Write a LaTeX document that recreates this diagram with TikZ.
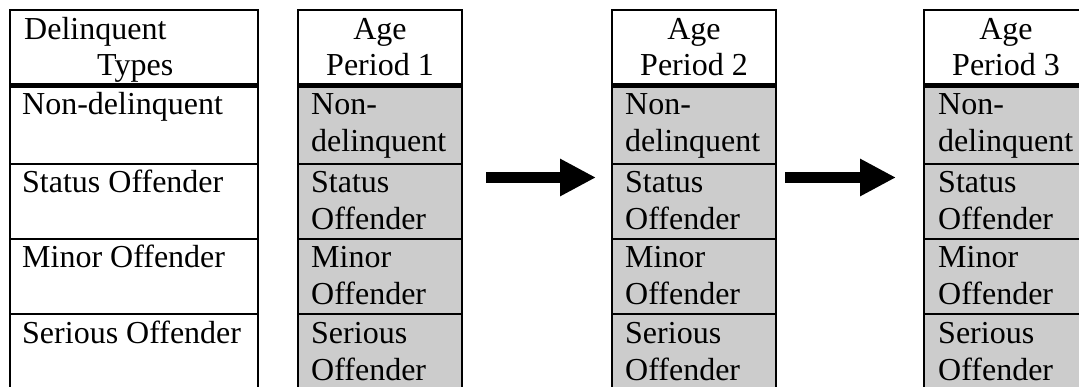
\documentclass[tikz,border=0pt]{standalone}
\usepackage{fontspec}
\setmainfont{Liberation Serif}
\usetikzlibrary{arrows.meta}
\definecolor{cellgray}{RGB}{204,204,204}
\begin{document}
\begin{tikzpicture}[x=1pt,y=-1pt,
  txt/.style={inner sep=0pt, anchor=base west, font=\fontsize{32}{37}\selectfont},
  hdr/.style={inner sep=0pt, anchor=base, font=\fontsize{32}{37}\selectfont},
  border/.style={draw=black, line width=2pt},
  thick rule/.style={draw=black, line width=5pt},
  bigarrow/.style={line width=11pt, -{Triangle[length=36pt,width=35pt]}}]
\useasboundingbox (0,0) rectangle (1079,387);
\clip (0,0) rectangle (1079,387);
% tables
\foreach \L/\R/\f in {10/258/white, 298/462/cellgray, 612/776/cellgray, 924/1088/cellgray}{
  \fill[\f] (\L,86) rectangle (\R,400);
  \draw[border] (\L,164) -- (\R,164);
  \draw[border] (\L,239) -- (\R,239);
  \draw[border] (\L,314) -- (\R,314);
  \draw[thick rule] (\L,86) -- (\R,86);
  \draw[border] (\L,400) -- (\L,10) -- (\R,10) -- (\R,400);
}
% first table texts
\node[txt] (d1) at (24,40) {Delinquent};
\node[txt] (d2) at (97,76) {Types};
\node[txt] (r1) at (22,115) {Non-delinquent};
\node[txt] (r2) at (22,193) {Status Offender};
\node[txt] (r3) at (22,268) {Minor Offender};
\node[txt] (r4) at (22,343) {Serious Offender};
% age period tables
\foreach \X/\C/\k in {311/380/1, 625/694/2, 938/1006/3}{
  \node[hdr] (h\k a) at (\C,40) {Age};
  \node[hdr] (h\k b) at (\C,76) {Period \k};
  \node[txt] (p\k a) at (\X,115) {Non-};
  \node[txt] (p\k b) at (\X,152) {delinquent};
  \node[txt] (p\k c) at (\X,193) {Status};
  \node[txt] (p\k d) at (\X,230) {Offender};
  \node[txt] (p\k e) at (\X,268) {Minor};
  \node[txt] (p\k f) at (\X,305) {Offender};
  \node[txt] (p\k g) at (\X,343) {Serious};
  \node[txt] (p\k h) at (\X,380) {Offender};
}
% arrows
\coordinate (a1s) at (486,177.5);
\coordinate (a1e) at (596,177.5);
\coordinate (a2s) at (785,177.5);
\coordinate (a2e) at (896,177.5);
\draw[bigarrow] (a1s) -- (a1e);
\draw[bigarrow] (a2s) -- (a2e);
\end{tikzpicture}
\end{document}
